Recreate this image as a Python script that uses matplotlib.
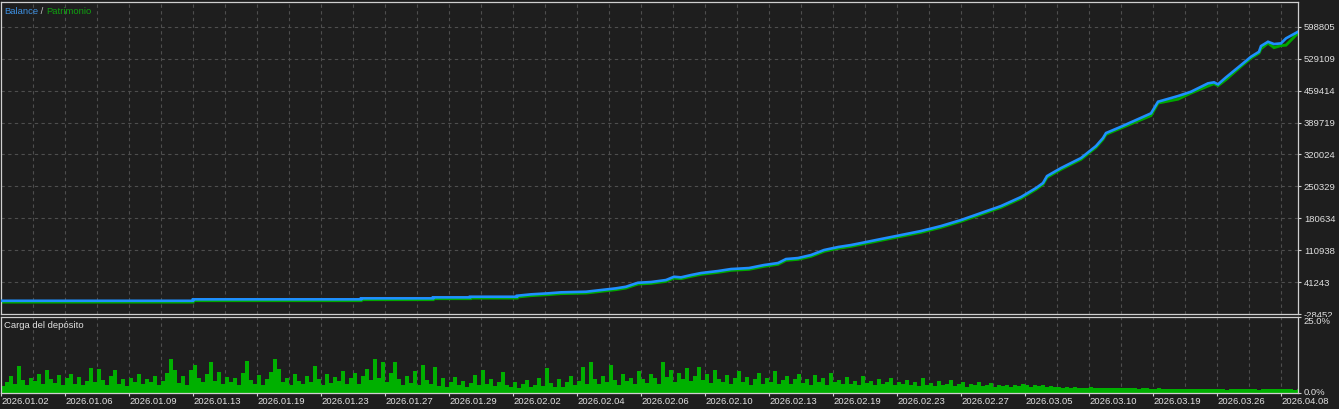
import matplotlib
matplotlib.use("Agg")
import matplotlib.pyplot as plt
import matplotlib.transforms as mtransforms
from matplotlib.transforms import Bbox, TransformedBbox
import numpy as np

# ---------------- data ----------------
bal_x = [0, 48, 48, 90, 90, 108, 108, 117.25, 117.25, 129, 129, 132.5, 136.75, 140,
         146.25, 150, 153.75, 156.25, 158, 159.25, 162.5, 166.25, 168.25, 170, 172.5,
         175, 179.25, 182.5, 187, 190.75, 194.25, 196.25, 199.25, 202.5, 205.75, 209.25,
         212.5, 215, 220, 225, 230, 235, 240, 245, 250, 255, 258.75, 260.5, 261.5, 265,
         270, 273.75, 275.5, 276.25, 280, 287.5, 289.25, 294.25, 297.5, 301.75, 303.25,
         304.25, 306.25, 310, 312.5, 314.5, 315, 316.75, 318.25, 320, 321.25, 324.25]
balance = [1000, 1000, 4170, 4170, 6350, 6350, 8530, 8530, 9840, 9840, 12020, 15070, 17250, 19440,
           20740, 24450, 28160, 31650, 36880, 40370, 41900, 46260, 53450, 52150, 57160,
           61520, 65880, 70240, 72420, 78970, 83330, 92050, 94230, 100770, 111680, 118220,
           122580, 126900, 135700, 144400, 153100, 164000, 177100, 192400, 207600, 227300,
           246900, 257800, 273000, 290500, 312300, 338500, 355900, 366800, 380600, 409800,
           435100, 447500, 456900, 475200, 477400, 473000, 488300, 515100, 533200, 544100,
           556500, 565900, 560900, 562400, 573300, 587700]
equity_drawdown = [0, 0, 0, 0, 0, 0, 0, 0, 0, 0, 0, 0, 0, 0,
                   0, 0, 0, 0, 0, 0, 0, 0, 0, 0, 0,
                   0, 0, 0, 0, 0, 0, 0, 0, 0, 0, 0,
                   0, 0, 0, 0, 0, 0, 0, 0, 0, 0,
                   0, 0, 0, 0, 0, 0, 0, 0, 0, 2000,
                   0, 4000, 0, 3000, 0, 0, 2000, 0, 0, 0,
                   3000, 0, 5000, 2000, 12000, 0]

deposit_load = [
    2.3, 3.5, 5.5, 3.0, 8.8, 4.2, 2.5, 5.0, 3.8, 6.0, 2.8, 7.5, 4.5, 3.2, 5.8, 2.4, 4.8, 6.2, 3.0, 5.2, 2.6, 4.0, 8.0, 3.5, 7.8,
    4.2, 2.5, 5.5, 7.5, 3.0, 4.6, 2.2, 5.0, 3.4, 6.2, 2.8, 4.4, 3.6, 5.6, 2.4, 4.0, 6.5, 11.0, 7.5, 3.2, 5.4, 2.6, 7.5, 9.0, 4.8,
    3.4, 6.0, 10.0, 4.0, 6.8, 2.8, 5.2, 3.6, 4.8, 2.5, 6.5, 10.5, 4.2, 3.0, 5.8, 2.6, 4.6, 6.8, 11.0, 7.8, 3.4, 5.0, 2.4, 6.2, 4.0,
    2.8, 5.6, 3.6, 8.7, 4.4, 2.6, 6.0, 3.2, 5.2, 4.0, 7.0, 2.8, 4.8, 6.4, 3.0, 5.6, 7.8, 4.2, 11.0, 5.0, 10.0, 3.6, 6.6, 10.0, 4.4,
    2.6, 5.4, 3.2, 7.0, 2.4, 9.0, 4.2, 3.0, 8.5, 2.2, 4.8, 1.8, 3.6, 5.2, 2.4, 4.0, 2.0, 3.2, 5.8, 2.6, 7.5, 3.0, 4.6, 2.2, 3.4,
    6.8, 2.4, 1.8, 3.6, 1.6, 2.8, 4.2, 1.8, 2.6, 5.0, 2.2, 8.0, 3.2, 2.0, 4.6, 1.8, 3.4, 5.6, 2.4, 4.0, 8.5, 3.0, 10.0, 4.4, 2.8,
    5.6, 3.4, 9.0, 4.2, 2.6, 6.2, 3.8, 5.0, 2.8, 7.0, 4.4, 3.2, 6.0, 4.8, 2.8, 10.0, 5.2, 7.6, 3.6, 6.4, 4.6, 8.0, 3.8, 5.4, 8.5,
    4.2, 6.0, 3.2, 7.4, 4.6, 3.6, 5.8, 2.8, 4.8, 7.0, 3.4, 5.2, 2.6, 4.4, 6.6, 3.0, 4.8, 3.6, 7.2, 2.8, 4.2, 5.6, 3.0, 4.6, 6.2,
    3.2, 4.4, 2.6, 5.8, 3.6, 4.8, 2.4, 6.4, 3.4, 4.2, 2.8, 5.2, 3.0, 4.0, 2.4, 5.6, 3.2, 3.8, 2.6, 4.6, 2.8, 3.6, 5.0, 2.4, 3.4,
    2.8, 4.2, 2.4, 3.6, 2.2, 4.8, 2.6, 3.2, 2.2, 3.8, 2.4, 3.0, 4.2, 2.2, 2.8, 3.4, 2.0, 3.0, 2.4, 3.6, 2.2, 2.6, 3.2, 2.0, 2.6,
    2.2, 2.4, 2.0, 2.6, 2.2, 2.8, 2.4, 2.0, 2.6, 2.2, 2.4, 2.0, 2.2, 1.8, 2.0, 1.7, 1.9, 1.6, 1.8, 1.6, 1.7, 1.5, 1.8, 1.6, 1.7,
    1.6, 1.5, 1.7, 1.6, 1.5, 1.4, 1.6, 1.5, 1.4, 1.3, 1.5, 1.4, 1.3, 1.2, 1.4, 1.3, 1.2, 1.3, 1.2, 1.1, 1.3, 1.2, 1.1, 1.2, 1.3,
    1.2, 1.1, 1.2, 1.3, 1.1, 1.2, 1.0, 1.2, 1.1, 1.2, 1.3, 1.1, 1.2, 1.1, 1.0, 1.2, 1.1, 1.2, 1.3, 1.1, 1.2, 1.1, 1.2, 1.0, 1.1,
]

date_labels = ["2026.01.02", "2026.01.06", "2026.01.09", "2026.01.13", "2026.01.19",
               "2026.01.23", "2026.01.27", "2026.01.29", "2026.02.02", "2026.02.04",
               "2026.02.06", "2026.02.10", "2026.02.13", "2026.02.19", "2026.02.23",
               "2026.02.27", "2026.03.05", "2026.03.10", "2026.03.19", "2026.03.26",
               "2026.04.08"]
value_ticks = [598805, 529109, 459414, 389719, 320024, 250329, 180634, 110938, 41243, -28452]
load_ticks = [0.0, 25.0]

# ---------------- style ----------------
BG = "#1e1e1e"
GRID = "#4e4e4e"
FRAME = "#d0d0d0"
TXT = "#e0e0e0"
BLUE = "#1e90ff"
GREEN = "#00a800"
BARG = "#00b000"
FONT = "Liberation Sans"
FS = 6.8

W, H = 1339, 409
fig = plt.figure(figsize=(W / 100, H / 100), dpi=100, facecolor=BG)


def fx(px):
    return px / W


def fy(py):
    return 1 - py / H


ax = fig.add_axes([fx(1), fy(314.3), fx(1298) - fx(1), fy(2) - fy(314.3)], facecolor=BG)
ax2 = fig.add_axes([fx(1), fy(392.7), fx(1298) - fx(1), fy(316.7) - fy(392.7)], facecolor=BG)

xmax = 324.25
grid_pos = np.arange(8, xmax, 8)
label_pos = np.arange(0, 16 * len(date_labels), 16)

# main panel
ax.set_xlim(0, xmax)
ax.set_ylim(-28452, -28452 + 312.3 * 2180.7)
for g in grid_pos:
    ax.axvline(g, color=GRID, lw=0.8, ls=(0, (3, 3)), zorder=0)
for v in value_ticks[:-1]:
    ax.axhline(v, color=GRID, lw=0.8, ls=(0, (3, 3)), zorder=0)

equity = [b - d for b, d in zip(balance, equity_drawdown)]
off = mtransforms.offset_copy(ax.transData, fig=fig, x=0, y=-1.3, units="dots")
ax.plot(bal_x, equity, color=GREEN, lw=2.1, transform=off, solid_joinstyle="miter", zorder=2)
ax.plot(bal_x, balance, color=BLUE, lw=1.9, solid_joinstyle="miter", zorder=3)

ax.set_xticks([])
ax.yaxis.tick_right()
ax.set_yticks(value_ticks)
ax.set_yticklabels([str(v) for v in value_ticks])
ax.tick_params(axis="y", colors=FRAME, length=2.2, width=0.8, pad=2.0,
               labelsize=FS, labelcolor=TXT)
clipbox = TransformedBbox(Bbox([[0.95, fy(316.5)], [1.0, 1.0]]), fig.transFigure)
for lbl in ax.get_yticklabels():
    lbl.set_fontfamily(FONT)
    lbl.set_clip_box(clipbox)
    lbl.set_clip_on(True)
for s in ax.spines.values():
    s.set_color(FRAME)
    s.set_linewidth(0.9)

# lower panel
ax2.set_xlim(0, xmax)
ax2.set_ylim(0, 25)
for g in grid_pos:
    ax2.axvline(g, color=GRID, lw=0.8, ls=(0, (3, 3)), zorder=0)
ax2.bar(np.arange(len(deposit_load)), deposit_load, width=1.0, align="edge",
        color=BARG, edgecolor="none", linewidth=0, zorder=2)
ax2.set_xticks(label_pos)
ax2.set_xticklabels(date_labels)
ax2.tick_params(axis="x", colors=FRAME, length=1.8, width=0.8, pad=1.0,
                labelsize=FS, labelcolor=TXT)
for lbl in ax2.get_xticklabels():
    lbl.set_fontfamily(FONT)
    lbl.set_ha("left")
ax2.yaxis.tick_right()
ax2.set_yticks(load_ticks)
ax2.set_yticklabels(["%.1f%%" % v for v in load_ticks])
ax2.tick_params(axis="y", colors=FRAME, length=2.2, width=0.8, pad=2.0,
                labelsize=FS, labelcolor=TXT)
ylbls = ax2.get_yticklabels()
for lbl in ylbls:
    lbl.set_fontfamily(FONT)
ylbls[1].set_va("top")
ylbls[0].set_va("center")
for s in ax2.spines.values():
    s.set_color(FRAME)
    s.set_linewidth(0.9)

# titles
fig.text(fx(4), fy(325.7), "Carga del depósito", color=TXT, fontsize=FS,
         family=FONT, va="center", ha="left")

renderer = fig.canvas.get_renderer()
xcur = fx(4)
for piece, col in [("Balance", "#3d8fe0"), (" / ", "#c8c8c8"), ("Patrimonio", "#10a010")]:
    t = fig.text(xcur, fy(11), piece, color=col, fontsize=FS, family=FONT,
                 va="center", ha="left")
    bb = t.get_window_extent(renderer=renderer)
    xcur += bb.width / W

fig.savefig("out.png", dpi=100, facecolor=BG)
